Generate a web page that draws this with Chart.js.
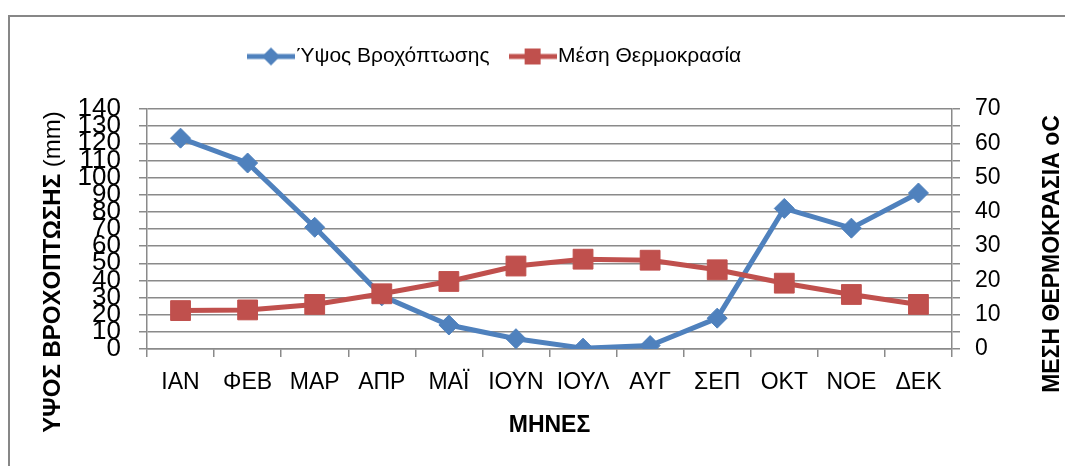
<!DOCTYPE html>
<html><head><meta charset="utf-8">
<script src="https://cdn.jsdelivr.net/npm/chart.js@4/dist/chart.umd.min.js"></script>
<style>html,body{margin:0;padding:0;background:#fff;}#wrap{width:1065px;height:466px;}</style>
</head><body><div id="wrap"><canvas id="c" width="1065" height="466"></canvas></div>
<script>
// ---- data ----
const months = ['ΙΑΝ','ΦΕΒ','ΜΑΡ','ΑΠΡ','ΜΑΪ','ΙΟΥΝ','ΙΟΥΛ','ΑΥΓ','ΣΕΠ','ΟΚΤ','ΝΟΕ','ΔΕΚ'];
const rainfall = [123, 108.5, 71, 31, 14, 6, 0.5, 2, 18, 82, 70.5, 91];
const temperature = [11.2, 11.4, 13, 16.1, 19.7, 24.2, 26.2, 25.9, 23.1, 19.2, 15.9, 13];
const rainTickLabels = [0,10,20,30,40,50,60,70,80,90,100,110,120,130,140];
const tempTickLabels = [0,10,20,30,40,50,60,70];
const tempTickMarks = [0,5,10,15,20,25,30,35,40,45,50,55,60,65,70];
const seriesNames = ['Ύψος Βροχόπτωσης','Μέση Θερμοκρασία'];
const xTitle = 'ΜΗΝΕΣ';
const leftTitleBold = 'ΥΨΟΣ ΒΡΟΧΟΠΤΩΣΗΣ ';
const leftTitleNormal = '(mm)';
const rightTitle = 'ΜΕΣΗ ΘΕΡΜΟΚΡΑΣΙΑ oC';

// ---- style ----
const BLUE = '#4F81BD', RED = '#C0504D', GRID = '#8a8a8a';
const W = 1065, H = 466;
const AREA = {left:147, right:952, top:109, bottom:349};
const FAM = '"Liberation Sans", Arial, sans-serif';
const legendFont = {family:FAM, size:21};
const LEG_PAD = 28, LEG_BOX = 30, LEG_X0 = 256, LEG_TOP = 18;

function makeIcon(color, shape){
  const c = document.createElement('canvas'); c.width = 48; c.height = 20;
  const g = c.getContext('2d');
  g.strokeStyle = color; g.lineWidth = 5;
  g.beginPath(); g.moveTo(0,10); g.lineTo(48,10); g.stroke();
  g.fillStyle = color;
  g.beginPath();
  if (shape === 'diamond'){ g.moveTo(24,1); g.lineTo(33,10); g.lineTo(24,19); g.lineTo(15,10); g.closePath(); }
  else { g.rect(16,2,16,16); }
  g.fill();
  return c;
}
const icons = [makeIcon(BLUE,'diamond'), makeIcon(RED,'square')];

// horizontal shift so the centred legend lands where the reference has it
const mctx = document.createElement('canvas').getContext('2d');
mctx.font = legendFont.size + 'px ' + legendFont.family;
let lineW = 0;
seriesNames.forEach(s => { lineW += LEG_BOX + legendFont.size/2 + mctx.measureText(s).width + LEG_PAD; });
const LEG_DX = LEG_X0 - (LEG_PAD + W - lineW)/2;

const framePlugin = {
  id:'frame',
  beforeLayout(chart){
    const lg = chart.legend;
    if (lg && !lg._patched){
      const origFit = lg.fit.bind(lg);
      lg.fit = function(){ origFit(); this.height = AREA.top - LEG_TOP; };
      const origDraw = lg.draw.bind(lg);
      lg.draw = function(){ const c = this.ctx; c.save(); c.translate(LEG_DX, 0); origDraw(); c.restore(); };
      lg._patched = true;
    }
  },
  beforeDraw(chart){
    const ctx = chart.ctx;
    ctx.save();
    ctx.fillStyle = '#fff'; ctx.fillRect(0,0,W,H);
    ctx.strokeStyle = '#878787'; ctx.lineWidth = 2;
    ctx.strokeRect(9,16,W+20,H+20);
    ctx.restore();
  },
  afterDraw(chart){
    const ctx = chart.ctx, ca = chart.chartArea;
    ctx.save();
    ctx.fillStyle = '#000';
    ctx.textBaseline = 'alphabetic';
    // x title
    ctx.font = 'bold 23px ' + FAM;
    ctx.textAlign = 'center';
    ctx.fillText(xTitle, (ca.left+ca.right)/2, 432);
    // left title
    ctx.save();
    ctx.translate(60, 272); ctx.rotate(-Math.PI/2);
    ctx.textAlign = 'left';
    ctx.font = 'bold 24px ' + FAM;
    const wb = ctx.measureText(leftTitleBold).width;
    ctx.font = '24px ' + FAM;
    const wn = ctx.measureText(leftTitleNormal).width;
    const start = -(wb+wn)/2;
    ctx.font = 'bold 24px ' + FAM;
    ctx.fillText(leftTitleBold, start, 0);
    ctx.font = '24px ' + FAM;
    ctx.fillText(leftTitleNormal, start+wb, 0);
    ctx.restore();
    // right title
    ctx.save();
    ctx.translate(1059, 254); ctx.rotate(-Math.PI/2);
    ctx.textAlign = 'center';
    ctx.font = 'bold 23px ' + FAM;
    ctx.fillText(rightTitle, 0, 0);
    ctx.restore();
    ctx.restore();
  }
};

new Chart(document.getElementById('c'), {
  type:'line',
  data:{
    labels: months,
    datasets:[
      {label: seriesNames[0], data: rainfall, yAxisID:'y', borderColor: BLUE, backgroundColor: BLUE,
       borderWidth:5, pointStyle:'rectRot', pointRadius:10, pointBorderWidth:1, pointBackgroundColor: BLUE,
       pointBorderColor: BLUE, tension:0, order:2},
      {label: seriesNames[1], data: temperature, yAxisID:'y1', borderColor: RED, backgroundColor: RED,
       borderWidth:5, pointStyle:'rect', pointRadius:14, pointBorderWidth:1, pointBackgroundColor: RED,
       pointBorderColor: RED, tension:0, order:1}
    ]
  },
  options:{
    responsive:false, animation:false, devicePixelRatio:1, events:[],
    layout:{padding:{left:0, right:0, top:LEG_TOP, bottom:0}},
    plugins:{
      tooltip:{enabled:false},
      legend:{
        display:true, position:'top', align:'center',
        labels:{
          usePointStyle:true, pointStyleWidth: LEG_BOX, padding: LEG_PAD,
          color:'#000', font: legendFont,
          generateLabels: chart => chart.data.datasets.map((ds,i) => ({
            text: ds.label, pointStyle: icons[i], fillStyle: ds.borderColor, strokeStyle: ds.borderColor,
            lineWidth:0, hidden: !chart.isDatasetVisible(i), datasetIndex:i, fontColor:'#000'
          }))
        }
      }
    },
    scales:{
      x:{
        offset:true,
        grid:{offset:true, drawOnChartArea:false, drawTicks:true, tickLength:8, color:GRID, lineWidth:1.5},
        border:{color:GRID, width:1.5},
        ticks:{color:'#000', font:{family:FAM, size:23}, padding:12, maxRotation:0, autoSkip:false},
        afterFit(s){ s.height = H - AREA.bottom; }
      },
      y:{
        position:'left', min:0, max:140,
        afterBuildTicks(s){ s.ticks = rainTickLabels.map(v => ({value:v})); },
        grid:{color:GRID, lineWidth:1.5, drawTicks:true, tickLength:8},
        border:{color:GRID, width:1.5},
        ticks:{color:'#000', font:{family:FAM, size:26}, padding:18, autoSkip:false},
        afterFit(s){ s.width = AREA.left; }
      },
      y1:{
        position:'right', min:0, max:70,
        afterBuildTicks(s){ s.ticks = tempTickMarks.map(v => ({value:v})); },
        grid:{drawOnChartArea:false, color:GRID, lineWidth:1.5, drawTicks:true, tickLength:8},
        border:{color:GRID, width:1.5},
        ticks:{color:'#000', font:{family:FAM, size:23}, padding:15, autoSkip:false,
               callback: v => tempTickLabels.includes(v) ? String(v) : ''},
        afterFit(s){ s.width = W - AREA.right; }
      }
    }
  },
  plugins:[framePlugin]
});
</script>
</body></html>
